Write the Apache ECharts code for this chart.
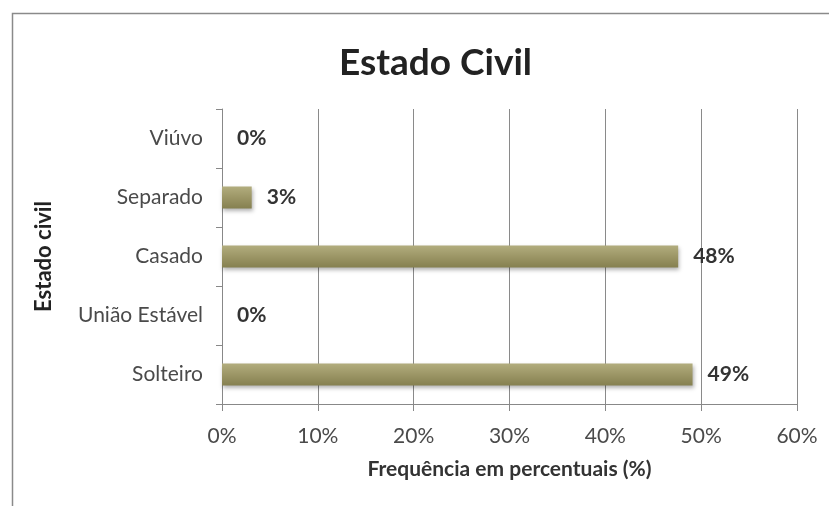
<!DOCTYPE html>
<html>
<head>
<meta charset="utf-8">
<script src="https://cdn.jsdelivr.net/npm/echarts@6/dist/echarts.min.js"></script>
<style>
html,body{margin:0;padding:0;background:#fff;}
#chart{width:829px;height:506px;}
</style>
</head>
<body>
<div id="chart"></div>
<script>
const categories = ["Solteiro", "União Estável", "Casado", "Separado", "Viúvo"];
const values = [49.1, 0, 47.6, 3.1, 0];
const xTicks = [0, 10, 20, 30, 40, 50, 60];
const titleText = "Estado Civil";
const xName = "Frequência em percentuais (%)";
const yName = "Estado civil";

const font = "Lato, 'Open Sans', sans-serif";
const chart = echarts.init(document.getElementById('chart'), null, {renderer: 'canvas'});
chart.setOption({
  animation: false,
  backgroundColor: '#fff',
  title: {
    text: titleText, left: 334, top: 40,
    textStyle: {fontFamily: font, fontSize: 37, fontWeight: 'bold', color: '#222'}
  },
  graphic: [{
    type: 'rect', left: 10, top: 11,
    shape: {width: 900, height: 600},
    style: {fill: 'none', stroke: '#8a8a8a', lineWidth: 1.5}
  }],
  grid: {left: 222, right: 32, top: 109, bottom: 102, containLabel: false},
  xAxis: {
    type: 'value', min: 0, max: 60, interval: 10,
    name: xName, nameLocation: 'middle', nameGap: 55,
    nameTextStyle: {fontFamily: font, fontSize: 21, fontWeight: 'bold', color: '#333'},
    axisLine: {show: true, lineStyle: {color: '#888', width: 1}},
    axisTick: {show: true, length: 7, lineStyle: {color: '#888'}},
    axisLabel: {fontFamily: font, fontSize: 21, color: '#4a4a4a', margin: 22,
      formatter: v => xTicks.includes(v) ? v + '%' : ''},
    splitLine: {show: true, lineStyle: {color: '#8a8a8a', width: 1}}
  },
  yAxis: {
    type: 'category', data: categories,
    name: yName, nameLocation: 'middle', nameGap: 167, nameRotate: 90,
    nameTextStyle: {fontFamily: font, fontSize: 22, fontWeight: 'bold', color: '#222'},
    axisLine: {show: true, lineStyle: {color: '#888', width: 1}},
    axisTick: {show: true, length: 6, lineStyle: {color: '#888'}},
    axisLabel: {fontFamily: font, fontSize: 21, color: '#4a4a4a', margin: 19}
  },
  series: [{
    type: 'bar', data: values, barWidth: 22,
    itemStyle: {
      color: new echarts.graphic.LinearGradient(0, 0, 0, 1, [
        {offset: 0, color: '#b2ad7e'},
        {offset: 0.5, color: '#9c9666'},
        {offset: 1, color: '#858050'}
      ]),
      shadowColor: 'rgba(0,0,0,0.3)', shadowBlur: 4, shadowOffsetX: 1, shadowOffsetY: 2
    },
    label: {
      show: true, position: 'right', distance: 15,
      fontFamily: font, fontSize: 21, fontWeight: 'bold', color: '#333',
      formatter: p => Math.round(p.value) + '%'
    }
  }]
});
</script>
</body>
</html>
